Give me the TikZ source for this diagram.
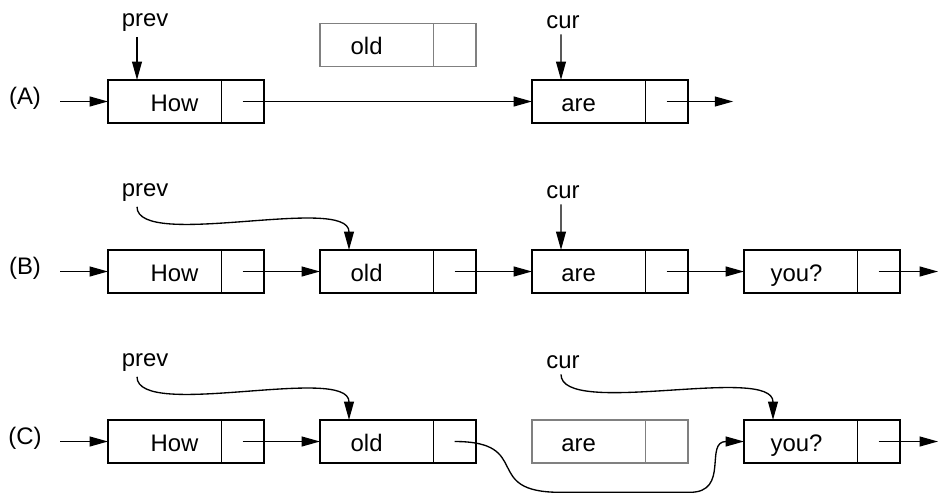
\documentclass[tikz,border=0pt]{standalone}
\usepackage{fontspec}
\setmainfont{Liberation Sans}
\usetikzlibrary{arrows.meta,positioning}

\tikzset{
  datacell/.style={draw, anchor=west, minimum width=2.83cm, minimum height=1.08cm, inner sep=0pt, outer sep=0pt, text height=14pt, text depth=0pt},
  ptrcell/.style={draw, anchor=west, minimum width=1.07cm, minimum height=1.08cm, inner sep=0pt, outer sep=0pt},
  ghost/.style={draw=gray},
  link/.style={-{Triangle[length=13pt,width=7pt]}}
}

\begin{document}
\begin{tikzpicture}[line width=0.95pt, every node/.style={font=\fontsize{17}{20}\selectfont}]
  \useasboundingbox (0,-1.3375) rectangle (23.475,11.0375);
  % (A) before insertion
  \begin{scope}[yshift=8.5cm]
    \node (labA) at (0.625,0.09) {(A)};
    \node[datacell] (howA) at (2.7,0) {\hspace*{0.5cm}How};
    \node[ptrcell] (howAp) at (howA.east) {};
    \node[datacell, ghost] (oldA) at (8.0,1.41) {old\hspace*{0.5cm}};
    \node[ptrcell, ghost] (oldAp) at (oldA.east) {};
    \node[datacell] (areA) at (13.3,0) {are\hspace*{0.5cm}};
    \node[ptrcell] (areAp) at (areA.east) {};
    \node (prevA) at (3.625,1.975) {prev};
    \node (curA) at (14.075,1.975) {cur};
    \coordinate (inA) at (1.5,0);
    \coordinate (endA) at (18.33,0);
    \draw[link] (inA) -- (howA.west);
    \draw[link] (howAp.center) -- (areA.west);
    \draw[link] (areAp.center) -- (endA);
    \draw[link] ([xshift=-0.2cm]prevA.south) -- ([xshift=0.725cm]howA.north west);
    \draw[link] ([xshift=-0.05cm]curA.south) -- ([xshift=0.725cm]areA.north west);
  \end{scope}
  % (B) old linked in after prev
  \begin{scope}[yshift=4.25cm]
    \node (labB) at (0.625,0.09) {(B)};
    \node[datacell] (howB) at (2.7,0) {\hspace*{0.5cm}How};
    \node[ptrcell] (howBp) at (howB.east) {};
    \node[datacell] (oldB) at (8.0,0) {old\hspace*{0.5cm}};
    \node[ptrcell] (oldBp) at (oldB.east) {};
    \node[datacell] (areB) at (13.3,0) {are\hspace*{0.5cm}};
    \node[ptrcell] (areBp) at (areB.east) {};
    \node[datacell] (youB) at (18.6,0) {you?\hspace*{0.2cm}};
    \node[ptrcell] (youBp) at (youB.east) {};
    \node (prevB) at (3.625,1.975) {prev};
    \node (curB) at (14.075,1.975) {cur};
    \coordinate (inB) at (1.5,0);
    \coordinate (endB) at (23.45,0);
    \draw[link] (inB) -- (howB.west);
    \draw[link] (howBp.center) -- (oldB.west);
    \draw[link] (oldBp.center) -- (areB.west);
    \draw[link] (areBp.center) -- (youB.west);
    \draw[link] (youBp.center) -- (endB);
    \draw[link] ([xshift=-0.2cm]prevB.south) to[out=-90, in=90, out distance=1.1cm, in distance=1.4cm] ([xshift=0.725cm]oldB.north west);
    \draw[link] ([xshift=-0.05cm]curB.south) -- ([xshift=0.725cm]areB.north west);
  \end{scope}
  % (C) are unlinked, old points to you?
  \begin{scope}
    \node (labC) at (0.625,0.09) {(C)};
    \node[datacell] (howC) at (2.7,0) {\hspace*{0.5cm}How};
    \node[ptrcell] (howCp) at (howC.east) {};
    \node[datacell] (oldC) at (8.0,0) {old\hspace*{0.5cm}};
    \node[ptrcell] (oldCp) at (oldC.east) {};
    \node[datacell, ghost] (areC) at (13.3,0) {are\hspace*{0.5cm}};
    \node[ptrcell, ghost] (areCp) at (areC.east) {};
    \node[datacell] (youC) at (18.6,0) {you?\hspace*{0.2cm}};
    \node[ptrcell] (youCp) at (youC.east) {};
    \node (prevC) at (3.625,1.975) {prev};
    \node (curC) at (14.075,1.975) {cur};
    \coordinate (inC) at (1.5,0);
    \coordinate (endC) at (23.45,0);
    \coordinate (dipL) at (14.0,-1.27);
    \coordinate (dipR) at (17.25,-1.27);
    \draw[link] (inC) -- (howC.west);
    \draw[link] (howCp.center) -- (oldC.west);
    \draw[link] (oldCp.center) to[out=0, in=180, out distance=2cm, in distance=2cm] (dipL)
      -- (dipR) to[out=0, in=180, out distance=1cm, in distance=1cm] (youC.west);
    \draw[link] (youCp.center) -- (endC);
    \draw[link] ([xshift=-0.2cm]prevC.south) to[out=-90, in=90, out distance=1.1cm, in distance=1.4cm] ([xshift=0.725cm]oldC.north west);
    \draw[link] ([xshift=-0.05cm]curC.south) to[out=-90, in=90, out distance=1.1cm, in distance=1.4cm] ([xshift=0.725cm]youC.north west);
  \end{scope}
\end{tikzpicture}
\end{document}
